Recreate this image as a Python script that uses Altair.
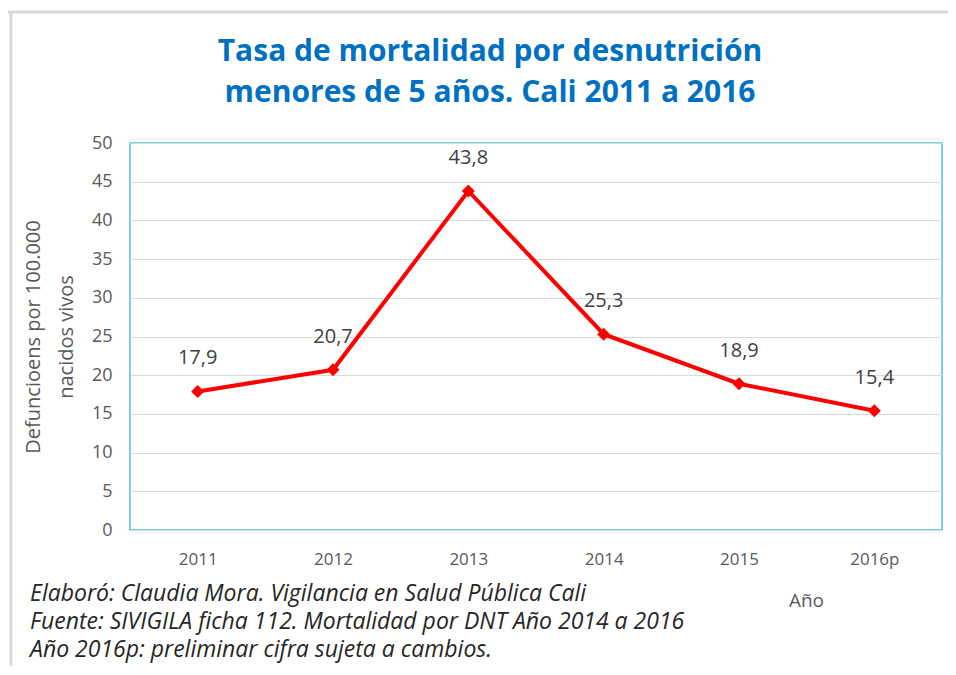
import altair as alt
import pandas as pd

years = ["2011", "2012", "2013", "2014", "2015", "2016p"]
values = [17.9, 20.7, 43.8, 25.3, 18.9, 15.4]
labels = ["17,9", "20,7", "43,8", "25,3", "18,9", "15,4"]
y_ticks = [0, 5, 10, 15, 20, 25, 30, 35, 40, 45, 50]

title_lines = ["Tasa de mortalidad por desnutrición", "menores de 5 años. Cali 2011 a 2016"]
y_title = ["Defuncioens por 100.000", "nacidos vivos"]
x_title = "Año"
notes = [
    "Elaboró: Claudia Mora. Vigilancia en Salud Pública Cali",
    "Fuente: SIVIGILA ficha 112. Mortalidad por DNT Año 2014  a 2016",
    "Año 2016p: preliminar cifra sujeta a cambios.",
]

df = pd.DataFrame({"year": years, "value": values, "label": labels})

W, H = 812, 387
GRAY = "#595959"

x_enc = alt.X(
    "year:N", sort=years,
    scale=alt.Scale(paddingInner=0, paddingOuter=0.5),
    axis=alt.Axis(
        title=x_title, labelAngle=0, labelFontSize=17, labelColor=GRAY,
        labelFont="Open Sans", labelPadding=21, ticks=False, domain=False,
        titleFont="Open Sans", titleFontSize=19, titleFontWeight="normal",
        titleColor=GRAY, titleX=676, titleY=70, titleAlign="center",
        titleBaseline="middle",
    ),
)
y_enc = alt.Y(
    "value:Q",
    scale=alt.Scale(domain=[0, 50], nice=False),
    axis=alt.Axis(
        values=y_ticks, title=y_title, labelFontSize=18, labelOverlap=False,
        labelColor=GRAY, labelFont="Open Sans", labelPadding=18, ticks=False,
        domain=False, grid=True, gridColor="#D9D9D9", gridWidth=1.2,
        titleFont="Open Sans", titleFontSize=20, titleFontWeight="normal",
        titleColor=GRAY, titleAngle=-90, titleX=-97, titleY=H / 2,
        titleAlign="center", titleBaseline="middle", titleLineHeight=33,
    ),
)

base = alt.Chart(df)
line = base.mark_line(color="#FF0000", strokeWidth=4).encode(x=x_enc, y=y_enc)
pts = base.mark_point(shape="diamond", filled=True, opacity=1, color="#FF0000", size=170).encode(
    x=x_enc, y=y_enc
)
txt = base.mark_text(dy=-33, fontSize=20, color="#404040", font="Open Sans").encode(
    x=x_enc, y=y_enc, text="label:N"
)

title_df = pd.DataFrame({"t": ["\n".join(title_lines)]})
title_txt = alt.Chart(title_df).mark_text(
    lineBreak="\n", lineHeight=41, align="center", baseline="middle",
    fontWeight="bold", fontSize=30, font="Open Sans", color="#0070C0",
).encode(x=alt.value(360), y=alt.value(-91), text="t:N")

notes_df = pd.DataFrame({"t": ["\n".join(notes)]})
notes_txt = alt.Chart(notes_df).mark_text(
    lineBreak="\n", lineHeight=28, align="left", baseline="middle",
    fontStyle="italic", fontSize=23, font="Open Sans", color="#262626",
).encode(x=alt.value(-100), y=alt.value(451), text="t:N")

frame_df = pd.DataFrame({"k": [0]})
frame_top = alt.Chart(frame_df).mark_rule(color="#D9D9D9", strokeWidth=3).encode(
    x=alt.value(-125), x2=alt.value(830), y=alt.value(-131)
)
frame_left = alt.Chart(frame_df).mark_rule(color="#D9D9D9", strokeWidth=3).encode(
    x=alt.value(-119), y=alt.value(-131), y2=alt.value(540)
)

chart = alt.layer(frame_top, frame_left, title_txt, line, pts, txt, notes_txt).properties(
    width=W, height=H,
    autosize=alt.AutoSizeParams(type="none"),
    padding={"left": 122, "top": 135, "right": 6, "bottom": 136},
).configure_view(stroke="#4BC0DC", strokeWidth=1.5)

chart.save("out.html", embed_options={"renderer": "svg", "actions": False})
